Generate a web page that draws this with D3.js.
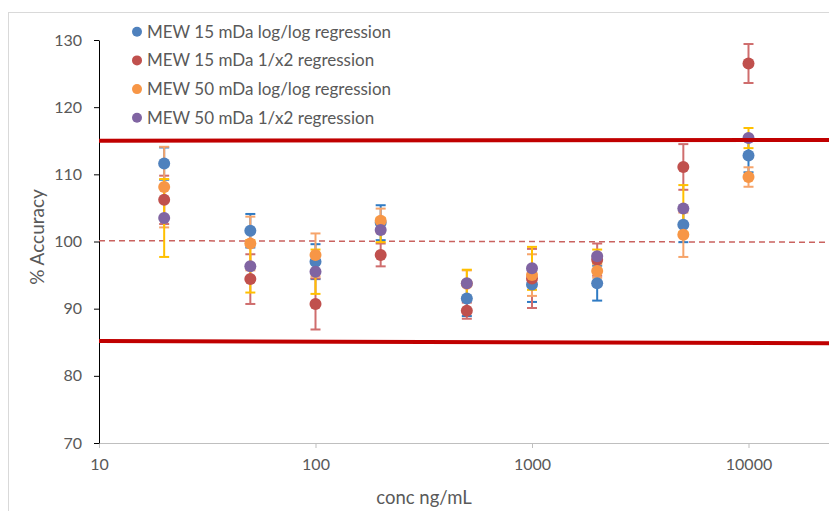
<!DOCTYPE html>
<html>
<head>
<meta charset="utf-8">
<script src="https://d3js.org/d3.v7.min.js"></script>
<style>
  body { margin: 0; background: #fff; }
  text { font-family: Lato, "Open Sans", sans-serif; fill: #595959; }
</style>
</head>
<body>
<div id="main"></div>
<script>
// concentrations (ng/mL)
const conc = [20, 50, 100, 200, 500, 1000, 2000, 5000, 10000];

// % accuracy per series
const blueVals   = [111.6, 101.6, 97.0, 102.8, 91.5, 93.6, 93.8, 102.5, 112.8];
const redVals    = [106.2, 94.4, 90.7, 98.0, 89.7, 94.5, 97.3, 111.1, 126.5];
const orangeVals = [108.1, 99.7, 98.0, 103.1, 93.7, 95.0, 95.6, 101.0, 109.6];
const purpleVals = [103.5, 96.3, 95.5, 101.7, 93.8, 96.0, 97.8, 104.9, 115.4];

// error bar half widths
const blueErr   = [2.4, 2.5, 2.6, 2.6, 2.6, 2.6, 2.6, 2.6, 2.5];
const redErr    = [3.6, 3.7, 3.8, 1.7, 1.2, 4.4, 2.4, 3.4, 2.9];
const orangeErr = [6.0, 4.0, 3.2, 1.8, 2.0, 3.1, 1.0, 3.3, 1.45];
const purpleErr = [5.8, 3.9, 3.3, 1.8, 2.0, 3.2, 1.0, 3.5, 1.5];

const seriesNames = [
  "MEW 15 mDa log/log regression",
  "MEW 15 mDa 1/x2 regression",
  "MEW 50 mDa log/log regression",
  "MEW 50 mDa 1/x2 regression"
];

// limit lines (start / end values)
const upperLimit = [115.0, 115.14];
const lowerLimit = [85.2, 84.8];
const targetLine = [100.13, 99.85];

const yTicks = [70, 80, 90, 100, 110, 120, 130];
const xTicks = [10, 100, 1000, 10000];

const markerColors = ["#4F81BD", "#C0504D", "#F79646", "#8064A2"];
const barColors = ["#2F7BC4", "#CF6D6D", "#F6A46A", "#FFC000"];

const series = [
  { name: seriesNames[0], vals: blueVals, err: blueErr },
  { name: seriesNames[1], vals: redVals, err: redErr },
  { name: seriesNames[2], vals: orangeVals, err: orangeErr },
  { name: seriesNames[3], vals: purpleVals, err: purpleErr }
];

const width = 829, height = 511;

const svg = d3.select("#main")
  .append("svg")
  .attr("width", width)
  .attr("height", height);

// chart border
svg.append("rect")
  .attr("x", 8.5).attr("y", 12.5)
  .attr("width", 900).attr("height", 600)
  .attr("fill", "#fff")
  .attr("stroke", "#D9D9D9");

const x = d3.scaleLog().domain([10, 100000]).range([99, 965]);
const y = d3.scaleLinear().domain([70, 130]).range([443, 40]);

// x axis
const xAxis = svg.append("g")
  .attr("transform", `translate(0, ${y(70)})`)
  .call(d3.axisBottom(x).tickValues(xTicks).tickFormat(d3.format("d"))
    .tickSize(5).tickSizeOuter(0).tickPadding(11));
xAxis.select(".domain").attr("stroke", "#BFBFBF");
xAxis.selectAll(".tick line").attr("stroke", "#BFBFBF");
xAxis.selectAll("text").style("font-size", "16px").attr("fill", "#595959");

// y axis
const yAxis = svg.append("g")
  .attr("transform", `translate(${x(10)}, 0)`)
  .call(d3.axisLeft(y).tickValues(yTicks).tickSize(5).tickSizeOuter(0).tickPadding(12));
yAxis.select(".domain").attr("stroke", "#000");
yAxis.selectAll(".tick line").attr("stroke", "#000");
yAxis.selectAll("text").style("font-size", "16px").attr("fill", "#595959");

// axis titles
svg.append("text")
  .attr("x", 424).attr("y", 504)
  .attr("text-anchor", "middle")
  .style("font-size", "18.5px")
  .text("conc ng/mL");

svg.append("text")
  .attr("transform", `translate(44, 237) rotate(-90)`)
  .attr("text-anchor", "middle")
  .style("font-size", "19px")
  .text("% Accuracy");

const lineGen = d3.line()
  .x(d => x(d[0]))
  .y(d => y(d[1]));

// target dashed line
svg.append("path")
  .datum([[10, targetLine[0]], [100000, targetLine[1]]])
  .attr("d", lineGen)
  .attr("fill", "none")
  .attr("stroke", "#C9625F")
  .attr("stroke-width", 1.5)
  .attr("stroke-dasharray", "6,4");

// error bars
const capW = 5;
series.forEach(function (s, i) {
  const g = svg.append("g").attr("class", "err" + i);
  conc.forEach(function (c, j) {
    const cx = x(c);
    const lo = y(s.vals[j] - s.err[j]);
    const hi = y(s.vals[j] + s.err[j]);
    g.append("line")
      .attr("x1", cx).attr("x2", cx)
      .attr("y1", lo).attr("y2", hi)
      .attr("stroke", barColors[i]).attr("stroke-width", 2);
    [lo, hi].forEach(function (yy) {
      g.append("line")
        .attr("x1", cx - capW).attr("x2", cx + capW)
        .attr("y1", yy).attr("y2", yy)
        .attr("stroke", barColors[i]).attr("stroke-width", 2);
    });
  });
});

// markers
series.forEach(function (s, i) {
  svg.append("g")
    .selectAll("circle")
    .data(conc)
    .join("circle")
    .attr("cx", d => x(d))
    .attr("cy", (d, j) => y(s.vals[j]))
    .attr("r", 6)
    .attr("fill", markerColors[i]);
});

// limit lines
[upperLimit, lowerLimit].forEach(function (lim) {
  svg.append("path")
    .datum([[10, lim[0]], [100000, lim[1]]])
    .attr("d", lineGen)
    .attr("fill", "none")
    .attr("stroke", "#C00000")
    .attr("stroke-width", 4);
});

// legend
const legend = svg.append("g");
series.forEach(function (s, i) {
  const ly = 31.7 + i * 28.7;
  legend.append("circle")
    .attr("cx", 137).attr("cy", ly)
    .attr("r", 5)
    .attr("fill", markerColors[i]);
  legend.append("text")
    .attr("x", 147).attr("y", ly)
    .attr("dy", "0.35em")
    .style("font-size", "17px")
    .text(s.name);
});
</script>
</body>
</html>
